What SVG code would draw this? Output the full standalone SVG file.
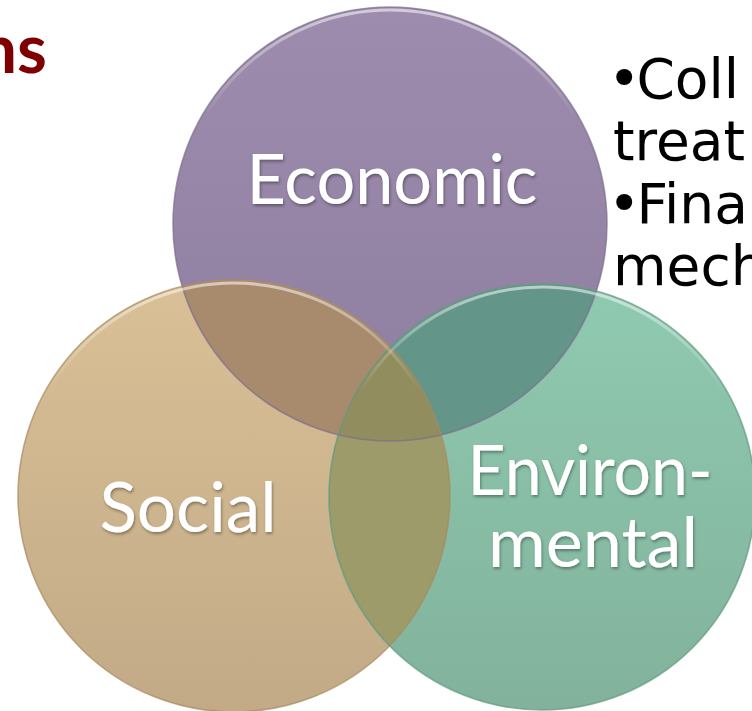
<svg xmlns="http://www.w3.org/2000/svg" width="752" height="711" viewBox="0 0 752 711">
<style>
.lbl{font-family:Lato,"Open Sans",sans-serif;font-size:70px;fill:#ffffff;text-anchor:middle;filter:url(#sh)}
.side{font-family:"DejaVu Sans",sans-serif;font-size:55px;fill:#000000}
.title{font-family:Lato,"Open Sans",sans-serif;font-weight:bold;font-size:68px;fill:#7f0000}
.rim{fill:none;stroke-width:1.6}
.hl{fill:none;stroke:url(#hlg);stroke-width:3}
</style>
<defs>
<linearGradient id="gE" x1="0" y1="0" x2="0" y2="1"><stop offset="0" stop-color="#9d8cae"/><stop offset="1" stop-color="#8e7e9e"/></linearGradient>
<linearGradient id="gS" x1="0" y1="0" x2="0" y2="1"><stop offset="0" stop-color="#d9c096"/><stop offset="1" stop-color="#c2aa87"/></linearGradient>
<linearGradient id="gV" x1="0" y1="0" x2="0" y2="1"><stop offset="0" stop-color="#8fcab0"/><stop offset="1" stop-color="#82b29b"/></linearGradient>
<linearGradient id="hlg" x1="0" y1="0" x2="0" y2="1"><stop offset="0" stop-color="#ffffff" stop-opacity="0.55"/><stop offset="0.25" stop-color="#ffffff" stop-opacity="0"/><stop offset="1" stop-color="#ffffff" stop-opacity="0"/></linearGradient>
<clipPath id="cE"><circle cx="390" cy="224" r="217"/></clipPath>
<clipPath id="cS"><circle cx="234" cy="496" r="216"/></clipPath>
<filter id="sh" x="-10%" y="-20%" width="120%" height="150%"><feDropShadow dx="1" dy="2" stdDeviation="1.5" flood-color="#000000" flood-opacity="0.35"/></filter>
</defs>
<rect width="752" height="711" fill="#ffffff"/>
<text class="title" x="47" y="73" text-anchor="end">ns</text>
<g id="side-text">
<text class="side" x="608" y="98">•<tspan dx="-4">Coll</tspan></text>
<text class="side" x="613" y="160">treat</text>
<text class="side" x="608" y="223">•<tspan dx="-4">Fina</tspan></text>
<text class="side" x="613" y="285">mech</text>
</g>
<g id="economic"><circle cx="390" cy="224" r="217" fill="url(#gE)"/></g>
<g id="social"><circle cx="234" cy="496" r="216" fill="url(#gS)"/></g>
<g id="environmental"><circle cx="542" cy="497" r="213" fill="url(#gV)"/></g>
<g id="overlaps">
<g clip-path="url(#cE)"><circle cx="234" cy="496" r="216" fill="#a88a6c"/></g>
<g clip-path="url(#cE)"><circle cx="542" cy="497" r="213" fill="#639588"/></g>
<g clip-path="url(#cS)"><circle cx="542" cy="497" r="213" fill="#9e9b6a"/></g>
<g clip-path="url(#cE)"><g clip-path="url(#cS)"><circle cx="542" cy="497" r="213" fill="#918d5e"/></g></g>
</g>
<g id="rims">
<circle class="rim" cx="390" cy="224" r="217" stroke="#7d6d8e" stroke-opacity="0.7"/>
<circle class="rim" cx="234" cy="496" r="216" stroke="#a88a60" stroke-opacity="0.7"/>
<circle class="rim" cx="542" cy="497" r="213" stroke="#5f9a82" stroke-opacity="0.7"/>
<circle class="hl" cx="390" cy="224" r="214"/>
<circle class="hl" cx="234" cy="496" r="213"/>
<circle class="hl" cx="542" cy="497" r="210"/>
</g>
<g id="labels">
<text class="lbl" x="392" y="204" textLength="291" lengthAdjust="spacingAndGlyphs">Economic</text>
<text class="lbl" x="188" y="532" textLength="177" lengthAdjust="spacingAndGlyphs">Social</text>
<text class="lbl" x="590" y="495" textLength="245" lengthAdjust="spacingAndGlyphs">Environ-</text>
<text class="lbl" x="593" y="567" textLength="210" lengthAdjust="spacingAndGlyphs">mental</text>
</g>
</svg>
